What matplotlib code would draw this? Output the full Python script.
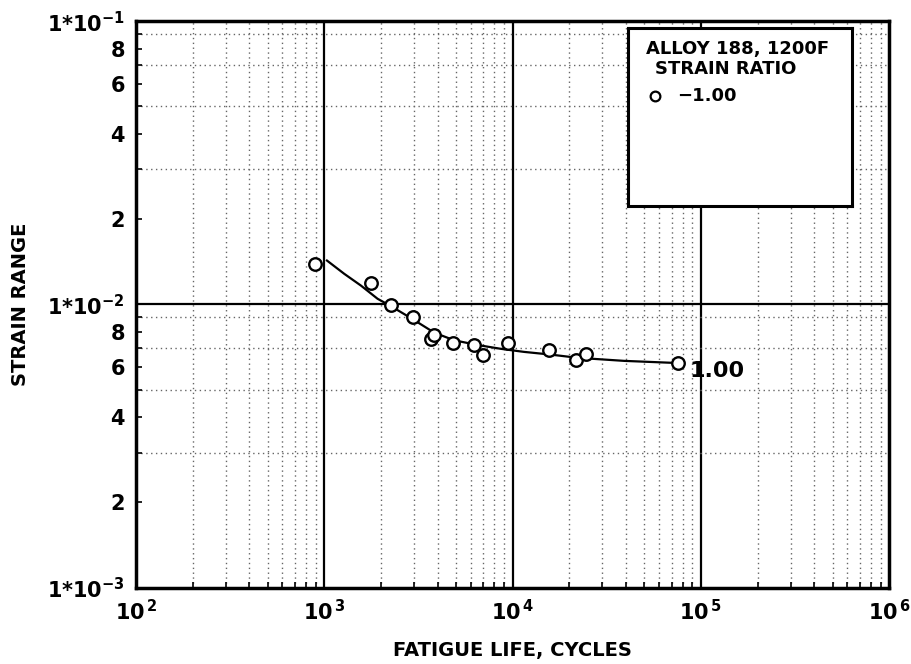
import numpy as np
import matplotlib
matplotlib.use("Agg")
import matplotlib.pyplot as plt
from matplotlib.ticker import LogLocator, FixedLocator, NullFormatter

plt.rcParams['font.family'] = ['DejaVu Sans']
plt.rcParams['font.weight'] = 'bold'
plt.rcParams['axes.labelweight'] = 'bold'

### test data, strain ratio -1.00
cycles = [892, 1770, 2262, 2948, 3687, 3824, 4808, 6216, 6937, 9419, 15660, 21710, 24530, 75300]
strain = [0.01391, 0.01189, 0.00992, 0.00902, 0.00757, 0.00778, 0.00733, 0.00721, 0.00661,
          0.00731, 0.00693, 0.00639, 0.00667, 0.00621]

### faired curve
fit_cycles = [1034, 1277, 1566, 1921, 2261, 2887, 3839, 4902, 6528, 8678, 11500,
              15990, 22160, 39200, 75300]
fit_strain = [0.01429, 0.01283, 0.01166, 0.01047, 0.00986, 0.00895, 0.00795, 0.00747,
              0.00719, 0.00697, 0.00680, 0.00665, 0.00648, 0.00632, 0.00621]

ylabels = {1e-1: r'1*10$^{-1}$', 8e-2: '8', 6e-2: '6', 4e-2: '4', 2e-2: '2',
           1e-2: r'1*10$^{-2}$', 8e-3: '8', 6e-3: '6', 4e-3: '4', 2e-3: '2',
           1e-3: r'1*10$^{-3}$'}
xlabels = {1e2: r'10$^{\,2}$', 1e3: r'10$^{\,3}$', 1e4: r'10$^{\,4}$',
           1e5: r'10$^{\,5}$', 1e6: r'10$^{\,6}$'}

fig = plt.figure(figsize=(9.12, 6.64), dpi=100)
ax = fig.add_axes([0.149, 0.115, 0.826, 0.853])
ax.set_xscale('log')
ax.set_yscale('log')
ax.set_xlim(1e2, 1e6)
ax.set_ylim(1e-3, 1e-1)

# grid: solid decades, dotted minors
ax.grid(which='minor', color='0.4', linestyle=(0, (1, 2.5)), linewidth=1.0)
for xv in [1e3, 1e4, 1e5]:
    ax.axvline(xv, color='black', linewidth=1.6, zorder=1)
ax.axhline(1e-2, color='black', linewidth=1.6, zorder=1)

ax.plot(fit_cycles, fit_strain, color='black', linewidth=1.6, zorder=3,
        solid_joinstyle='round')
ax.plot(cycles, strain, 'o', mfc='white', mec='black', mew=1.7, ms=9, zorder=4)
ax.text(fit_cycles[-1] * 1.15, fit_strain[-1] * 0.94, '1.00', fontsize=16,
        va='center', ha='left', zorder=5)

ax.yaxis.set_major_locator(FixedLocator(list(ylabels.keys())))
ax.set_yticklabels(list(ylabels.values()), fontsize=15)
ax.yaxis.set_minor_locator(LogLocator(base=10, subs=np.arange(2, 10)))
ax.yaxis.set_minor_formatter(NullFormatter())
ax.xaxis.set_major_locator(FixedLocator(list(xlabels.keys())))
ax.set_xticklabels(list(xlabels.values()), fontsize=15)
ax.xaxis.set_minor_locator(LogLocator(base=10, subs=np.arange(2, 10)))
ax.xaxis.set_minor_formatter(NullFormatter())
ax.tick_params(which='both', direction='in', length=4, width=1.2, pad=8)

for s in ax.spines.values():
    s.set_linewidth(2.5)

ax.set_xlabel('FATIGUE LIFE, CYCLES', fontsize=14, labelpad=12)
ax.set_ylabel('STRAIN RANGE', fontsize=14, labelpad=12)

### legend box
box = ax.inset_axes([0.653, 0.673, 0.297, 0.315])
box.set_xticks([]); box.set_yticks([])
box.set_facecolor('white')
for s in box.spines.values():
    s.set_linewidth(2.2)
box.set_xlim(0, 1); box.set_ylim(0, 1)
box.text(0.08, 0.88, 'ALLOY 188, 1200F', fontsize=13, va='center')
box.text(0.12, 0.77, 'STRAIN RATIO', fontsize=13, va='center')
box.plot([0.12], [0.62], 'o', mfc='white', mec='black', mew=1.6, ms=7)
box.text(0.22, 0.62, '\u22121.00', fontsize=13, va='center')

fig.savefig('out.png', dpi=100)
